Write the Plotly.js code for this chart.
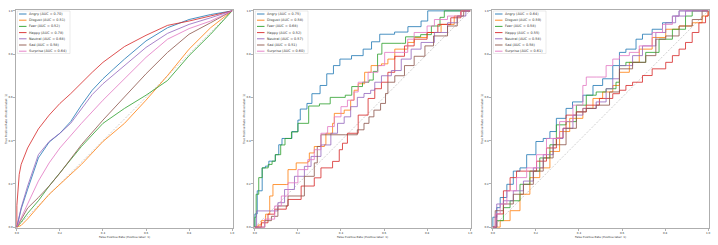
<!DOCTYPE html>
<html>
<head>
<meta charset="utf-8">
<script src="https://cdn.plot.ly/plotly-3.0.1.min.js"></script>
<style>html,body{margin:0;padding:0;background:#fff;}#chart{width:718px;height:245px;}</style>
</head>
<body>
<div id="chart"></div>
<script>
// ---- Data ----
const classes = ['Angry','Disgust','Fear','Happy','Neutral','Sad','Surprise'];
const colors = ['#1f77b4','#ff7f0e','#2ca02c','#d62728','#9467bd','#8c564b','#e377c2'];
const auc1 = [0.70,0.51,0.52,0.78,0.68,0.58,0.64];
const auc2 = [0.75,0.58,0.68,0.52,0.57,0.51,0.60];
const auc3 = [0.64,0.59,0.58,0.55,0.58,0.58,0.61];
const tickVals = [0,0.2,0.4,0.6,0.8,1.0];
const tickText = ['0.0','0.2','0.4','0.6','0.8','1.0'];
const chanceX = [0,1];
const chanceY = [0,1];
const xTitle = 'False Positive Rate (Positive label: 1)';
const yTitle = 'True Positive Rate (Positive label: 1)';

// Plot 1 (smooth ROC curves)
const p1AngryX = [0,0.02,0.05,0.1,0.15,0.2,0.25,0.3,0.35,0.4,0.45,0.5,0.6,0.7,0.8,0.9,1];
const p1AngryY = [0,0.084,0.175,0.32,0.393,0.434,0.488,0.564,0.633,0.686,0.732,0.777,0.861,0.922,0.96,0.983,1];
const p1DisgustX = [0,0.02,0.05,0.1,0.15,0.2,0.3,0.4,0.5,0.6,0.7,0.8,0.9,1];
const p1DisgustY = [0,0.008,0.038,0.095,0.152,0.198,0.29,0.396,0.48,0.587,0.701,0.823,0.922,1];
const p1FearX = [0,0.02,0.05,0.1,0.15,0.2,0.3,0.4,0.5,0.6,0.7,0.8,0.9,1];
const p1FearY = [0,0.023,0.064,0.122,0.19,0.25,0.373,0.48,0.549,0.61,0.678,0.793,0.892,1];
const p1HappyX = [0,0,0.011,0.02,0.05,0.1,0.15,0.2,0.25,0.3,0.35,0.4,0.5,0.6,0.7,0.8,0.9,1];
const p1HappyY = [0,0.10,0.244,0.29,0.366,0.454,0.518,0.572,0.617,0.668,0.716,0.762,0.835,0.887,0.933,0.953,0.976,1];
const p1NeutralX = [0,0.02,0.05,0.1,0.15,0.2,0.25,0.3,0.35,0.4,0.5,0.6,0.7,0.8,0.9,1];
const p1NeutralY = [0,0.09,0.19,0.335,0.396,0.434,0.48,0.549,0.613,0.663,0.747,0.831,0.896,0.9375,0.968,1];
const p1SadX = [0,0.02,0.05,0.1,0.15,0.2,0.25,0.3,0.4,0.5,0.6,0.7,0.8,0.9,1];
const p1SadY = [0,0.038,0.088,0.137,0.19,0.25,0.317,0.381,0.495,0.602,0.709,0.808,0.892,0.945,1];
const p1SurpriseX = [0,0.02,0.05,0.1,0.15,0.2,0.3,0.4,0.5,0.6,0.7,0.8,0.9,1];
const p1SurpriseY = [0,0.046,0.107,0.213,0.297,0.366,0.48,0.587,0.686,0.785,0.869,0.918,0.953,1];

// Plot 2 (stepped ROC curves)
const p2AngryX = [0,0,0.011,0.034,0.049,0.065,0.095,0.111,0.126,0.172,0.2,0.211,0.242,0.265,0.303,0.334,0.365,0.395,0.449,0.503,0.542,0.58,0.649,0.711,0.772,0.803,1];
const p2AngryY = [0,0.061,0.168,0.274,0.282,0.305,0.335,0.381,0.41,0.442,0.495,0.546,0.572,0.617,0.655,0.709,0.747,0.777,0.793,0.823,0.857,0.892,0.902,0.927,0.953,1.0,1];
const p2DisgustX = [0,0.015,0.03,0.05,0.069,0.069,0.084,0.146,0.154,0.192,0.246,0.253,0.276,0.323,0.33,0.361,0.369,0.415,0.445,0.461,0.48,0.51,0.54,0.588,0.618,0.65,0.71,0.74,0.80,0.865,0.926,0.957,1];
const p2DisgustY = [0,0.01,0.03,0.06,0.098,0.144,0.197,0.197,0.266,0.297,0.304,0.343,0.373,0.381,0.434,0.48,0.526,0.541,0.587,0.633,0.663,0.716,0.747,0.755,0.777,0.823,0.854,0.877,0.9,0.9375,0.976,1.0,1];
const p2FearX = [0,0,0.006,0.018,0.034,0.062,0.08,0.095,0.12,0.14,0.17,0.2,0.25,0.25,0.3,0.35,0.42,0.45,0.5,0.53,0.55,0.57,0.59,0.68,0.70,0.77,0.82,0.86,0.88,1];
const p2FearY = [0,0.046,0.152,0.229,0.274,0.29,0.305,0.335,0.38,0.41,0.44,0.48,0.48,0.56,0.57,0.60,0.61,0.65,0.67,0.68,0.72,0.80,0.85,0.85,0.88,0.89,0.93,0.97,1.0,1];
const p2HappyX = [0,0.03,0.061,0.092,0.146,0.154,0.215,0.276,0.307,0.361,0.392,0.407,0.43,0.48,0.526,0.557,0.588,0.618,0.65,0.695,0.74,0.80,0.85,0.91,0.957,1];
const p2HappyY = [0,0.02,0.06,0.083,0.098,0.128,0.19,0.228,0.274,0.304,0.358,0.388,0.434,0.518,0.595,0.64,0.67,0.716,0.79,0.838,0.869,0.9,0.9375,0.968,1.0,1];
const p2NeutralX = [0,0.008,0.061,0.107,0.138,0.184,0.23,0.261,0.307,0.353,0.384,0.415,0.445,0.476,0.507,0.538,0.557,0.588,0.634,0.68,0.726,0.772,0.834,0.895,0.94,0.98,1];
const p2NeutralY = [0,0.075,0.075,0.113,0.174,0.235,0.281,0.327,0.38,0.434,0.48,0.51,0.557,0.60,0.618,0.633,0.67,0.70,0.724,0.777,0.823,0.854,0.9,0.945,0.976,1.0,1];
const p2SadX = [0,0.046,0.077,0.107,0.154,0.23,0.276,0.29,0.307,0.42,0.476,0.507,0.53,0.553,0.584,0.607,0.618,0.65,0.695,0.74,0.79,0.83,0.895,0.94,0.97,1];
const p2SadY = [0,0.03,0.05,0.098,0.144,0.235,0.297,0.373,0.427,0.427,0.45,0.48,0.51,0.541,0.572,0.618,0.67,0.70,0.747,0.79,0.838,0.884,0.93,0.976,1.0,1];
const p2SurpriseX = [0,0.046,0.092,0.123,0.154,0.2,0.246,0.276,0.307,0.338,0.369,0.40,0.43,0.46,0.48,0.526,0.572,0.603,0.68,0.71,0.74,0.80,0.834,0.895,0.957,1];
const p2SurpriseY = [0,0.037,0.098,0.144,0.205,0.266,0.312,0.358,0.434,0.465,0.51,0.557,0.587,0.625,0.67,0.716,0.747,0.808,0.808,0.869,0.9,0.93,0.96,0.976,1.0,1];

// Plot 3 (stepped ROC curves)
const p3AngryX = [0,0,0.018,0.034,0.065,0.095,0.126,0.157,0.2,0.234,0.265,0.295,0.34,0.37,0.418,0.465,0.51,0.557,0.588,0.618,0.665,0.695,0.74,0.788,0.834,0.865,1];
const p3AngryY = [0,0.046,0.09,0.137,0.198,0.259,0.274,0.335,0.396,0.41,0.442,0.503,0.549,0.579,0.61,0.655,0.686,0.747,0.808,0.823,0.869,0.892,0.915,0.945,0.976,1,1];
const p3DisgustX = [0,0.034,0.08,0.126,0.172,0.218,0.265,0.31,0.357,0.418,0.465,0.51,0.557,0.588,0.634,0.68,0.74,0.803,0.865,0.926,0.972,1];
const p3DisgustY = [0,0.03,0.076,0.152,0.229,0.274,0.35,0.442,0.503,0.549,0.595,0.625,0.655,0.716,0.762,0.823,0.877,0.915,0.93,0.945,0.976,1];
const p3FearX = [0,0.018,0.049,0.08,0.126,0.172,0.218,0.265,0.295,0.34,0.388,0.434,0.48,0.526,0.572,0.588,0.618,0.665,0.71,0.772,0.834,0.895,0.926,1];
const p3FearY = [0,0.03,0.09,0.122,0.198,0.259,0.32,0.381,0.473,0.488,0.564,0.61,0.625,0.64,0.67,0.747,0.762,0.762,0.808,0.869,0.915,0.976,1,1];
const p3HappyX = [0,0.018,0.049,0.08,0.11,0.172,0.203,0.249,0.295,0.326,0.34,0.388,0.434,0.495,0.557,0.588,0.618,0.649,0.695,0.74,0.803,0.834,0.865,0.895,0.926,0.957,0.988,1];
const p3HappyY = [0,0.061,0.168,0.229,0.259,0.259,0.305,0.366,0.412,0.457,0.518,0.533,0.564,0.595,0.617,0.633,0.655,0.67,0.701,0.732,0.762,0.793,0.823,0.854,0.9,0.945,0.976,1];
const p3NeutralX = [0,0.018,0.049,0.095,0.142,0.188,0.234,0.28,0.326,0.372,0.418,0.48,0.526,0.557,0.588,0.649,0.695,0.757,0.803,0.849,0.895,1];
const p3NeutralY = [0,0.107,0.122,0.168,0.213,0.274,0.335,0.41,0.457,0.518,0.549,0.579,0.64,0.686,0.747,0.793,0.838,0.9,0.945,0.976,1,1];
const p3SadX = [0,0.011,0.049,0.095,0.142,0.188,0.234,0.28,0.34,0.388,0.434,0.48,0.542,0.588,0.649,0.71,0.757,0.803,0.865,0.926,0.972,1];
const p3SadY = [0,0.076,0.107,0.152,0.198,0.259,0.32,0.381,0.457,0.533,0.549,0.564,0.625,0.732,0.762,0.793,0.869,0.884,0.93,0.96,1,1];
const p3SurpriseX = [0,0.011,0.034,0.065,0.11,0.157,0.203,0.249,0.31,0.372,0.418,0.434,0.48,0.526,0.557,0.588,0.634,0.68,0.74,0.788,0.834,0.865,1];
const p3SurpriseY = [0,0.061,0.107,0.168,0.229,0.274,0.335,0.41,0.488,0.564,0.655,0.694,0.694,0.747,0.777,0.793,0.808,0.838,0.9,0.9375,0.976,1,1];

const plots = [
  {suf:'', auc:auc1, shape:'linear', data:[[p1AngryX,p1AngryY],[p1DisgustX,p1DisgustY],[p1FearX,p1FearY],[p1HappyX,p1HappyY],[p1NeutralX,p1NeutralY],[p1SadX,p1SadY],[p1SurpriseX,p1SurpriseY]]},
  {suf:'2', auc:auc2, shape:'hv', data:[[p2AngryX,p2AngryY],[p2DisgustX,p2DisgustY],[p2FearX,p2FearY],[p2HappyX,p2HappyY],[p2NeutralX,p2NeutralY],[p2SadX,p2SadY],[p2SurpriseX,p2SurpriseY]]},
  {suf:'3', auc:auc3, shape:'hv', data:[[p3AngryX,p3AngryY],[p3DisgustX,p3DisgustY],[p3FearX,p3FearY],[p3HappyX,p3HappyY],[p3NeutralX,p3NeutralY],[p3SadX,p3SadY],[p3SurpriseX,p3SurpriseY]]}
];

// ---- Layout geometry (pixels) ----
const W = 718, H = 245;
const plotLefts = [16, 254, 492];
const plotW = 217, plotTop = 10, plotBottom = 228;
const plotH = plotBottom - plotTop;

const traces = [];
const shapes = [];
const annotations = [];
const layout = {
  width: W, height: H,
  margin: {l:0, r:0, t:0, b:0},
  paper_bgcolor: '#fff', plot_bgcolor: '#fff',
  showlegend: false,
  font: {family: 'DejaVu Sans, sans-serif', color: '#333'},
  shapes: shapes, annotations: annotations
};

plots.forEach((p, k) => {
  const xa = 'x' + p.suf, ya = 'y' + p.suf;
  traces.push({
    x: chanceX, y: chanceY, xaxis: xa, yaxis: ya, mode: 'lines',
    line: {color: '#b0b0b0', width: 0.6, dash: '2px,1.5px'}, hoverinfo: 'skip'
  });
  p.data.forEach((d, i) => {
    traces.push({
      x: d[0], y: d[1], xaxis: xa, yaxis: ya, mode: 'lines',
      name: classes[i] + ' (AUC = ' + p.auc[i].toFixed(2) + ')',
      line: {color: colors[i], width: 0.9, shape: p.shape},
      opacity: 0.9
    });
  });
  const axBase = {
    range: [-0.004, 1.004], tickvals: tickVals, ticktext: tickText,
    ticks: 'outside', ticklen: 2, tickwidth: 0.5, tickcolor: '#666',
    tickfont: {size: 2.7, color: '#333'},
    showline: true, mirror: true, linecolor: '#9a9a9a', linewidth: 0.8,
    showgrid: false, zeroline: false, fixedrange: true
  };
  layout['xaxis' + p.suf] = Object.assign({}, axBase, {
    domain: [plotLefts[k] / W, (plotLefts[k] + plotW) / W],
    anchor: ya,
    title: {text: xTitle, font: {size: 2.8, color: '#333'}, standoff: 1}
  });
  layout['yaxis' + p.suf] = Object.assign({}, axBase, {
    domain: [1 - plotBottom / H, 1 - plotTop / H],
    anchor: xa,
    title: {text: yTitle, font: {size: 2.8, color: '#333'}, standoff: 1}
  });

  // legend box drawn with shapes + annotations
  const xr = xa + ' domain', yr = ya + ' domain';
  const fx = px => px / plotW;
  const fy = px => 1 - px / plotH;
  shapes.push({type: 'rect', xref: xr, yref: yr, x0: fx(1.3), x1: fx(54), y0: fy(43.5), y1: fy(1),
    fillcolor: 'rgba(255,255,255,0.85)', line: {color: '#d4d4d4', width: 0.5}, layer: 'above'});
  classes.forEach((c, i) => {
    const yy = fy(4 + 6.2 * i);
    shapes.push({type: 'line', xref: xr, yref: yr, x0: fx(3), x1: fx(10.5), y0: yy, y1: yy,
      line: {color: colors[i], width: 0.9}, layer: 'above'});
    annotations.push({xref: xr, yref: yr, x: fx(12.3), y: yy, xanchor: 'left', yanchor: 'middle',
      text: c + ' (AUC = ' + p.auc[i].toFixed(2) + ')', showarrow: false, borderpad: 0,
      font: {size: 3.4, color: '#333'}});
  });
});

Plotly.newPlot('chart', traces, layout, {staticPlot: true, displayModeBar: false});
</script>
</body>
</html>
